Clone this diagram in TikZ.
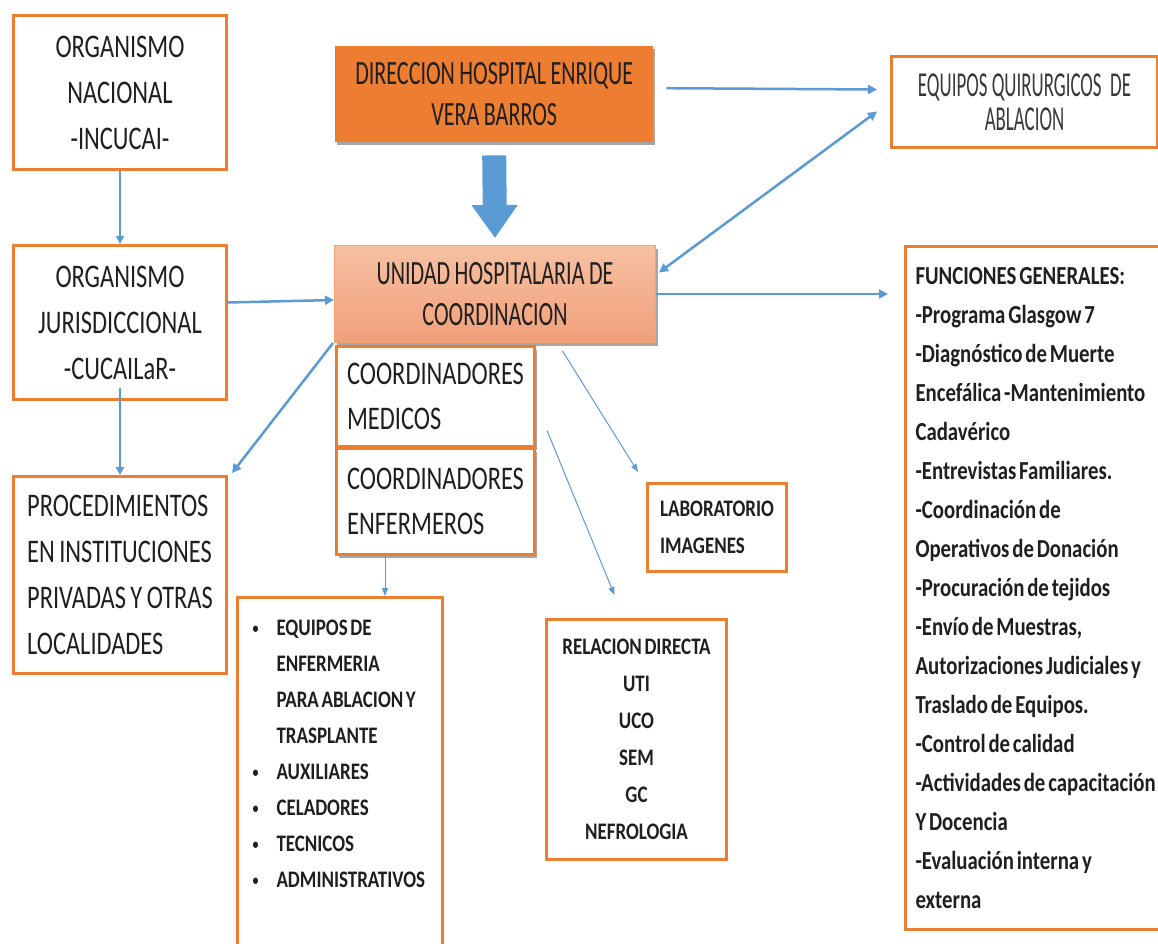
\documentclass[tikz,border=0pt]{standalone}
\usepackage{fontspec}
\setmainfont{Carlito}
\newfontfamily\fa[FakeStretch=0.74,WordSpace=0.8]{Carlito}
\newfontfamily\fb[FakeStretch=0.65,WordSpace=0.9]{Carlito}
\newfontfamily\fc[FakeStretch=0.54]{Carlito}
\newfontfamily\fd[FakeStretch=0.8,WordSpace=0.6]{Carlito}
\usetikzlibrary{arrows.meta,shadows,calc}
\definecolor{orng}{HTML}{ED7D31}
\definecolor{blu}{HTML}{5B9BD5}
\definecolor{txt}{HTML}{1F1F1F}
\definecolor{uhctop}{HTML}{F6C0A2}
\definecolor{uhcbot}{HTML}{F1A07A}
\newcommand{\bul}{\makebox[24pt][l]{\raisebox{2pt}{\fontsize{15}{15}\selectfont •}}}
\begin{document}
\begin{tikzpicture}[x=1pt,y=-1pt,
  obox/.style={draw=orng, line width=3pt, fill=white, rectangle, anchor=north west, inner sep=0pt, text=txt},
  tA/.style={font={\fa\fontsize{33}{46}\selectfont}},
  tB/.style={font={\fb\fontsize{34}{41}\selectfont}},
  tC/.style={font={\fc\fontsize{35}{34}\selectfont}},
  tD/.style={font={\fd\bfseries\fontsize{23.7}{37}\selectfont}},
  tF/.style={font={\fd\bfseries\fontsize{26}{39}\selectfont}},
  shad/.style={drop shadow={shadow xshift=2pt,shadow yshift=-3pt,opacity=.35,fill=black}},
  arr/.style={draw=blu, line width=2.5pt, -{Triangle[length=9pt 0 0,width=9pt 0 0]}},
  arrb/.style={draw=blu, line width=2pt, -{Triangle[length=8pt 0 0,width=8pt 0 0]}},
  dblarr/.style={draw=blu, line width=2.5pt, {Triangle[length=9pt 0 0,width=9pt 0 0]}-{Triangle[length=9pt 0 0,width=9pt 0 0]}},
  thinarr/.style={draw=blu, line width=1pt, -{Triangle[length=8pt 0 0,width=6pt 0 0]}},
  bigarr/.style={draw=blu, line width=24pt, -{Triangle[length=33pt 0 0,width=44pt 0 0]}}
]
\useasboundingbox[fill=white] (0,0) rectangle (1158,943);

% nodes
\node[obox, minimum width=213pt, minimum height=154pt, align=center, tA] (nac) at (12,14) {ORGANISMO\\NACIONAL\\-INCUCAI-};
\node[obox, minimum width=213pt, minimum height=154pt, align=center, tA] (jur) at (12,244) {ORGANISMO\\JURISDICCIONAL\\-CUCAILaR-};
\node[obox, minimum width=213pt, minimum height=197pt, align=left, tA] (proc) at (12,475) {PROCEDIMIENTOS\\EN INSTITUCIONES\\PRIVADAS Y OTRAS\\LOCALIDADES};

\node[rectangle, anchor=north west, fill=orng, shad, minimum width=318pt, minimum height=96pt, inner sep=0pt, align=center, text=txt, tB] (dir) at (335,46) {DIRECCION HOSPITAL ENRIQUE\\VERA BARROS};

\node[rectangle, anchor=north west, draw=orng!70, line width=1pt, top color=uhctop, bottom color=uhcbot, shad, minimum width=321pt, minimum height=97pt, inner sep=0pt, align=center, text=txt, tB] (uhc) at (334,245) {UNIDAD HOSPITALARIA DE\\COORDINACION};

\node[obox, shad, minimum width=198pt, minimum height=100pt, align=left, tA, font={\fa\fontsize{33}{45}\selectfont}] (cm) at (335,345) {COORDINADORES\\MEDICOS};
\node[obox, shad, minimum width=198pt, minimum height=106pt, align=left, tA, font={\fa\fontsize{33}{45}\selectfont}] (ce) at (335,447) {COORDINADORES\\ENFERMEROS};

\node[obox, minimum width=266pt, minimum height=91pt, align=center, tC, text=black!78] (eq) at (890,55) {EQUIPOS QUIRURGICOS~ DE\\ABLACION};

\node[obox, minimum width=300pt, minimum height=683pt, inner xsep=10pt, text width=280pt, align=flush left, tF] (fun) at (904,245) {FUNCIONES GENERALES:\\
-Programa Glasgow 7\\
-Diagnóstico de Muerte\\
Encefálica -Mantenimiento\\
Cadavérico\\
-Entrevistas Familiares.\\
-Coordinación de\\
Operativos de Donación\\
-Procuración de tejidos\\
-Envío de Muestras,\\
Autorizaciones Judiciales y\\
Traslado de Equipos.\\
-Control de calidad\\
-Actividades de capacitación\\
Y Docencia\\
-Evaluación interna y\\
externa};

\node[obox, minimum width=139pt, minimum height=88pt, align=left, tD] (lab) at (646,482) {LABORATORIO\\IMAGENES};

\node[obox, minimum width=180pt, minimum height=240pt, align=center, tD] (rel) at (545,618) {RELACION DIRECTA\\UTI\\UCO\\SEM\\GC\\NEFROLOGIA};

\node[obox, inner xsep=15pt, inner ysep=22pt, tD, font={\fd\bfseries\fontsize{23.7}{36}\selectfont}] (enf) at (236,596) {\begin{minipage}[t][360pt][t]{175pt}%
\bul EQUIPOS DE\\
\hspace*{24pt}ENFERMERIA\\
\hspace*{24pt}PARA ABLACION Y\\
\hspace*{24pt}TRASPLANTE\\
\bul AUXILIARES\\
\bul CELADORES\\
\bul TECNICOS\\
\bul ADMINISTRATIVOS
\end{minipage}};

% connectors
\coordinate (funin) at ($(fun.west |- uhc.east)+(-16,0)$);
\draw[arrb] (nac.south) -- (jur.north);
\draw[arrb] ([yshift=13pt]jur.south) -- (proc.north);
\draw[arr] ([yshift=20pt]jur.east) -- ([yshift=-6pt]uhc.west);
\draw[arr] ([xshift=-1pt]uhc.south west) -- ([xshift=4pt,yshift=2pt]proc.north east);
\draw[arr] ([xshift=13pt,yshift=6pt]dir.east) -- ([xshift=-13pt,yshift=12.5pt]eq.west);
\draw[dblarr] ([xshift=-13pt,yshift=-9.5pt]eq.west) -- ([xshift=3pt,yshift=21.5pt]uhc.east);
\draw[arr] (uhc.east) -- (funin);
\draw[bigarr] ([yshift=-13pt]dir.south) -- ([yshift=7pt]uhc.north);
\draw[thinarr] ([xshift=67.5pt,yshift=-8pt]uhc.south) -- ([xshift=-8pt,yshift=10pt]lab.north west);
\draw[thinarr] ([xshift=11pt,yshift=-34pt]cm.east) -- ([xshift=-22pt,yshift=23pt]rel.north);
\draw[thinarr] ([xshift=50pt]ce.south west) -- ([xshift=149pt]enf.north west);
\end{tikzpicture}
\end{document}
